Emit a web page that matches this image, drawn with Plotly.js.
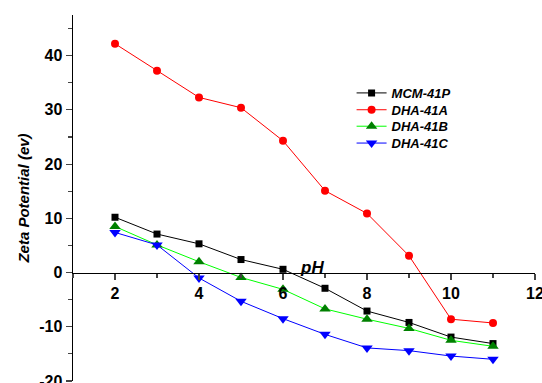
<!DOCTYPE html>
<html>
<head>
<meta charset="utf-8">
<script src="https://cdn.plot.ly/plotly-3.0.1.min.js"></script>
<style>html,body{margin:0;padding:0;background:#fff;}#chart{width:542px;height:383px;}</style>
</head>
<body>
<div id="chart"></div>
<script>
const pH = [2, 3, 4, 5, 6, 7, 8, 9, 10, 11];
const mcm41p = [10.2, 7.1, 5.3, 2.4, 0.6, -2.9, -7.1, -9.2, -11.9, -13.1];
const dha41a = [42.2, 37.2, 32.3, 30.4, 24.3, 15.1, 10.9, 3.1, -8.6, -9.3];
const dha41b = [8.5, 5.1, 2.0, -0.9, -3.1, -6.7, -8.6, -10.3, -12.5, -13.6];
const dha41c = [7.4, 5.1, -1.0, -5.3, -8.5, -11.4, -13.9, -14.4, -15.4, -16.0];
const seriesNames = ['MCM-41P', 'DHA-41A', 'DHA-41B', 'DHA-41C'];
const xTickVals = [2, 4, 6, 8, 10, 12];
const xTickText = ['2', '4', '6', '8', '10', '12'];
const yTickVals = [-20, -10, 0, 10, 20, 30, 40];
const yTickText = ['-20', '-10', '0', '10', '20', '30', '40'];

const narrow = '"Liberation Sans Narrow", "Arial Narrow", "Liberation Sans", Arial, sans-serif';
const bold = '"Liberation Sans", Arial, sans-serif';
const yMin = -20, yMax = 47.5;

const traces = [
  {x: pH, y: mcm41p, name: seriesNames[0], mode: 'lines+markers', legend: 'legend',
   line: {color: '#000000', width: 1}, marker: {symbol: 'square', size: 7, color: '#000000'}},
  {x: pH, y: dha41a, name: seriesNames[1], mode: 'lines+markers', legend: 'legend2',
   line: {color: '#ff0000', width: 1}, marker: {symbol: 'circle', size: 8, color: '#ff0000'}},
  {x: pH, y: dha41b, name: seriesNames[2], mode: 'lines+markers', legend: 'legend3',
   line: {color: '#00ff00', width: 1}, marker: {symbol: 'triangle-up', size: 10, color: '#008000'}},
  {x: pH, y: dha41c, name: seriesNames[3], mode: 'lines+markers', legend: 'legend4',
   line: {color: '#0000ff', width: 1}, marker: {symbol: 'triangle-down', size: 10, color: '#0000ff'}}
];

function legendAt(yPaper) {
  return {x: 0.603, y: yPaper, xanchor: 'left', yanchor: 'middle',
    font: {family: narrow, size: 13, weight: 'bold', style: 'italic', color: '#000'},
    bgcolor: 'rgba(0,0,0,0)', itemwidth: 30, tracegroupgap: 0};
}

const layout = {
  width: 542, height: 383,
  margin: {l: 73, r: 7, t: 15, b: 2},
  paper_bgcolor: '#ffffff', plot_bgcolor: '#ffffff',
  showlegend: true,
  legend: legendAt(0.787),
  legend2: legendAt(0.741),
  legend3: legendAt(0.696),
  legend4: legendAt(0.650),
  xaxis: {
    range: [1, 12.0001], tickmode: 'array', tickvals: xTickVals, ticktext: xTickText,
    ticks: 'outside', ticklen: 6, tickwidth: 1.2,
    minor: {tick0: 0, dtick: 1, ticks: 'outside', ticklen: 4, tickwidth: 1.2},
    showline: true, linecolor: '#000', linewidth: 1.5, showgrid: false, zeroline: false,
    anchor: 'free', position: (0 - yMin) / (yMax - yMin), ticklabeloverflow: 'allow',
    tickfont: {family: bold, size: 16, weight: 'bold', color: '#000'}
  },
  yaxis: {
    range: [yMin - 0.0001, yMax], tickmode: 'array', tickvals: yTickVals, ticktext: yTickText,
    ticks: 'outside', ticklen: 6, tickwidth: 1.2,
    minor: {tick0: 0, dtick: 5, ticks: 'outside', ticklen: 4, tickwidth: 1.2},
    showline: true, linecolor: '#000', linewidth: 1.5, showgrid: false, zeroline: false,
    ticklabeloverflow: 'allow',
    tickfont: {family: bold, size: 16, weight: 'bold', color: '#000'},
    title: {text: 'Zeta Potential (ev)', standoff: 6,
      font: {family: narrow, size: 15, weight: 'bold', style: 'italic', color: '#000'}}
  },
  annotations: [{
    text: 'pH', xref: 'x', yref: 'y', x: 6.7, y: 0, xanchor: 'center', yanchor: 'bottom',
    yshift: -6, showarrow: false,
    font: {family: narrow, size: 17, weight: 'bold', style: 'italic', color: '#000'}
  }]
};

Plotly.newPlot('chart', traces, layout, {displayModeBar: false, staticPlot: true});
</script>
</body>
</html>
